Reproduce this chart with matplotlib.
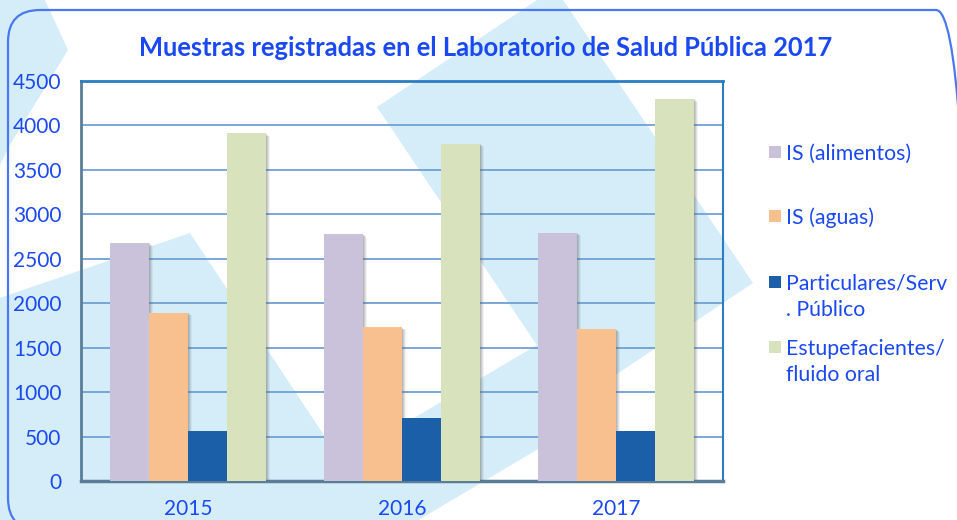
import matplotlib
matplotlib.use("Agg")
import matplotlib.pyplot as plt
import numpy as np
from matplotlib.patches import Polygon, FancyBboxPatch, Rectangle
import matplotlib.patheffects as pe

# ---- data ----
years = ["2015", "2016", "2017"]
series_names = ["IS (alimentos)", "IS (aguas)", "Particulares/Serv\n. Público", "Estupefacientes/\nfluido oral"]
is_alimentos = [2680, 2780, 2795]
is_aguas = [1895, 1730, 1710]
particulares = [568, 710, 560]
estupefacientes = [3910, 3795, 4300]
yticks = [0, 500, 1000, 1500, 2000, 2500, 3000, 3500, 4000, 4500]
title = "Muestras registradas en el Laboratorio de Salud Pública 2017"

colors = ["#cac1da", "#f8c08f", "#1a5fa8", "#d8e3be"]
text_blue = "#1a48f2"
wm = "#d5edf8"

plt.rcParams['font.family'] = ['Lato', 'DejaVu Sans']

W, H = 957, 520
fig = plt.figure(figsize=(W / 100, H / 100), dpi=100)
fig.patch.set_facecolor("white")

def img(pts):
    return [(x, H - y) for x, y in pts]

# watermark shapes (pixel coords, y downward)
shapes = [
    [(0, 0), (45, 0), (68, 50), (10, 145), (0, 165)],
    [(377, 107), (555, -12), (753, 283), (575, 402)],
    [(190, 233), (420, 580), (-200, 580), (-200, 366)],
    [(537, 345), (587, 420), (250, 620), (200, 545)],
]
for s in shapes:
    fig.patches.append(Polygon(img(s), closed=True, transform=None,
                               facecolor=wm, edgecolor="none", zorder=-5))

# rounded border
fig.patches.append(FancyBboxPatch((8, H - 530), 960, 520, transform=None,
                                  boxstyle="round,pad=0,rounding_size=32",
                                  facecolor="none", edgecolor="#4a78f0",
                                  linewidth=1.6, zorder=-4))

ax = fig.add_axes([81 / W, 1 - 481 / H, (723 - 81) / W, (481 - 81) / H])
ax.set_facecolor("none")
ax.set_ylim(0, 4500)
ax.set_xlim(-0.5, 2.5)

x = np.arange(len(years))
w = 0.182
data = [is_alimentos, is_aguas, particulares, estupefacientes]
shadow = [
    pe.SimplePatchShadow(offset=(3.2, -2.0), shadow_rgbFace="#606060", alpha=0.08),
    pe.SimplePatchShadow(offset=(2.4, -1.5), shadow_rgbFace="#606060", alpha=0.12),
    pe.SimplePatchShadow(offset=(1.6, -1.0), shadow_rgbFace="#606060", alpha=0.15),
    pe.SimplePatchShadow(offset=(0.8, -0.5), shadow_rgbFace="#606060", alpha=0.18),
    pe.Normal(),
]
for i, (vals, c) in enumerate(zip(data, colors)):
    bars = ax.bar(x + (i - 1.5) * w, vals, width=w, color=c, zorder=3, linewidth=0)
    for b in bars:
        b.set_path_effects(shadow)

ax.set_yticks(yticks)
ax.set_xticks(x)
ax.set_xticklabels(years)
ax.yaxis.grid(True, color="#6fa0d5", linewidth=1.3, zorder=1)
ax.set_axisbelow(True)
ax.tick_params(axis="both", length=0, colors=text_blue, labelsize=15)
ax.tick_params(axis="y", pad=14)
ax.tick_params(axis="x", pad=13)

ax.spines["top"].set_color("#2a7dc4")
ax.spines["top"].set_linewidth(2)
ax.spines["right"].set_color("#2a7dc4")
ax.spines["right"].set_linewidth(1.5)
ax.spines["left"].set_color("#5a7d98")
ax.spines["left"].set_linewidth(2)
ax.spines["bottom"].set_color("#5a7d98")
ax.spines["bottom"].set_linewidth(2.5)

fig.text(486 / W, 1 - 48 / H, title, ha="center", va="center",
         fontsize=18.4, fontweight="bold", color=text_blue)

# legend
leg_y = [152, 216, 282, 347]
for name, c, yy in zip(series_names, colors, leg_y):
    fig.patches.append(Rectangle((769, H - yy - 6), 12, 12, transform=None,
                                 facecolor=c, edgecolor="none"))
    for k, line in enumerate(name.split("\n")):
        fig.text(786 / W, 1 - (yy + 26 * k) / H, line, ha="left", va="center_baseline",
                 fontsize=15.3, color=text_blue)

fig.savefig("out.png", dpi=100)
